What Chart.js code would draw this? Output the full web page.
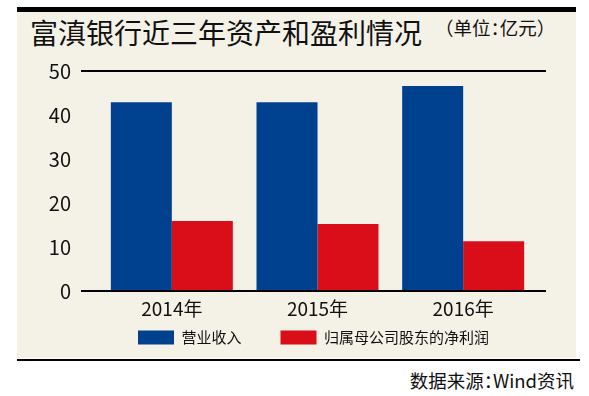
<!DOCTYPE html>
<html>
<head>
<meta charset="utf-8">
<script src="https://cdn.jsdelivr.net/npm/chart.js@4"></script>
<style>
  html, body { margin: 0; padding: 0; background: #fff; }
  body { width: 589px; height: 396px; position: relative; overflow: hidden;
         font-family: "Noto Sans CJK SC", sans-serif; color: #111; }
  .panel { position: absolute; left: 17px; top: 12px; width: 559px; height: 346px; background: #f4f1e7; }
  .topbar { position: absolute; left: 17px; top: 7px; width: 559px; height: 5px; background: #000; }
  .bottomline { position: absolute; left: 17px; top: 359px; width: 563px; height: 2px; background: #000; }
  .title { position: absolute; left: 30px; top: 18px; font-size: 28px; line-height: 28px; white-space: nowrap; }
  .unit { position: absolute; left: 435px; top: 18px; font-size: 18.5px; line-height: 18.5px; white-space: nowrap; }
  .source { position: absolute; right: 15px; top: 371px; font-size: 18.5px; line-height: 18.5px; white-space: nowrap; }
  .half { font-feature-settings: "halt"; }
  .wrap { position: absolute; left: 0; top: 0; width: 589px; height: 396px; }
</style>
</head>
<body>
<div class="topbar"></div>
<div class="panel"></div>
<div class="bottomline"></div>
<div class="title">富滇银行近三年资产和盈利情况</div>
<div class="unit">（单位<span class="half">：</span>亿元）</div>
<div class="source">数据来源<span class="half">：</span>Wind资讯</div>
<div class="wrap"><canvas id="chart"></canvas></div>
<script>
const years = ['2014年', '2015年', '2016年'];
const revenue = [42.9, 42.9, 46.6];      // 营业收入
const netProfit = [15.9, 15.2, 11.3];    // 归属母公司股东的净利润
const yTicks = [0, 10, 20, 30, 40, 50];

const fontFamily = '"Noto Sans CJK SC", sans-serif';

// black rules at 0 and 50, a bit wider than the bars area,
// and the legend pulled up under the year labels
const ruleLines = {
  id: 'ruleLines',
  beforeInit(chart) {
    const legend = chart.legend;
    if (legend && !legend._fixed) {
      const fit = legend.fit;
      legend.fit = function () { fit.call(this); this.height = 60; };
      legend._fixed = true;
    }
  },
  afterLayout(chart) {
    const legend = chart.legend;
    const h = legend.height;
    legend.top = chart.chartArea.bottom;
    legend.bottom = legend.top + h;
  },
  afterDatasetsDraw(chart) {
    const { ctx, chartArea, scales } = chart;
    ctx.save();
    ctx.strokeStyle = '#000';
    ctx.lineWidth = 2;
    [yTicks[0], yTicks[yTicks.length - 1]].forEach(v => {
      const y = Math.round(scales.y.getPixelForValue(v));
      ctx.beginPath();
      ctx.moveTo(chartArea.left - 18, y);
      ctx.lineTo(chartArea.right + 10, y);
      ctx.stroke();
    });
    ctx.restore();
  }
};

new Chart(document.getElementById('chart').getContext('2d'), {
  type: 'bar',
  data: {
    labels: years,
    datasets: [{
      label: '营业收入',
      data: revenue,
      backgroundColor: '#00418f'
    }, {
      label: '归属母公司股东的净利润',
      data: netProfit,
      backgroundColor: '#da0e19'
    }]
  },
  options: {
    responsive: true,
    maintainAspectRatio: false,
    animation: false,
    layout: { padding: { top: 71, left: 0, right: 53, bottom: 5 } },
    datasets: { bar: { categoryPercentage: 0.8375, barPercentage: 1 } },
    scales: {
      x: {
        grid: { display: false, drawTicks: false },
        border: { display: false },
        ticks: { color: '#111', font: { family: fontFamily, size: 19 }, padding: 6 },
        afterFit(scale) { scale.height = 40; }
      },
      y: {
        min: 0,
        max: 50,
        grid: { display: false, drawTicks: false },
        border: { display: false },
        afterBuildTicks(scale) { scale.ticks = yTicks.map(v => ({ value: v })); },
        ticks: { color: '#111', font: { family: fontFamily, size: 20 }, padding: 28 },
        afterFit(scale) { scale.width = 99; }
      }
    },
    plugins: {
      legend: {
        position: 'bottom',
        align: 'start',
        fullSize: false,
        labels: {
          boxWidth: 36,
          boxHeight: 14,
          padding: 39,
          color: '#111',
          font: { family: fontFamily, size: 15 }
        }
      },
      tooltip: { enabled: false }
    }
  },
  plugins: [ruleLines]
});
</script>
</body>
</html>
